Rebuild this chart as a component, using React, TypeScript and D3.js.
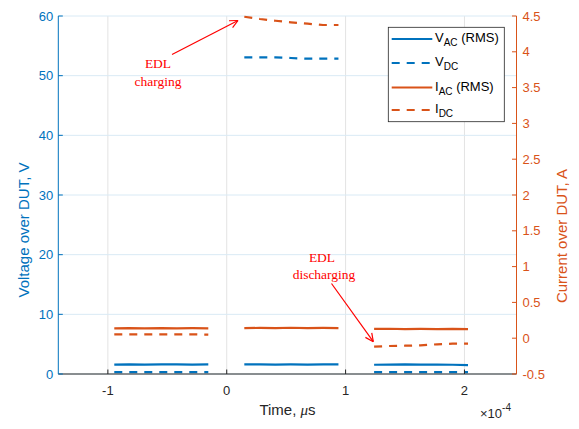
import React, { useEffect, useRef } from "react";
import * as d3 from "d3";

// Figure size and colours
const W = 579;
const H = 429;
const BLUE = "#0072BD";
const ORANGE = "#D95319";
const AXIS_DARK = "#262626";
const RED = "#FF0000";

// Time samples of the three measurement windows (x 1e-4)
const tWindow1 = [-0.946, -0.82, -0.69, -0.55, -0.42, -0.29, -0.155];
const tWindow2 = [0.148, 0.28, 0.41, 0.54, 0.68, 0.81, 0.94];
const tWindow3 = [1.24, 1.37, 1.5, 1.63, 1.77, 1.9, 2.03];

// Voltage over DUT (V)
const vAcWindow1 = [1.58, 1.6, 1.56, 1.62, 1.6, 1.58, 1.6];
const vAcWindow2 = [1.6, 1.62, 1.58, 1.6, 1.57, 1.6, 1.6];
const vAcWindow3 = [1.55, 1.58, 1.6, 1.56, 1.58, 1.55, 1.5];
const vDcWindow1 = [0.3, 0.3, 0.3, 0.3, 0.3, 0.3, 0.3];
const vDcWindow2 = [53.08, 53.08, 53.08, 52.96, 52.84, 52.84, 52.84];
const vDcWindow3 = [0.3, 0.3, 0.3, 0.3, 0.3, 0.3, 0.3];

// Current over DUT (A)
const iAcWindow1 = [0.138, 0.14, 0.136, 0.14, 0.138, 0.14, 0.138];
const iAcWindow2 = [0.14, 0.144, 0.14, 0.146, 0.142, 0.144, 0.142];
const iAcWindow3 = [0.13, 0.132, 0.128, 0.13, 0.128, 0.13, 0.126];
const iDcWindow1 = [0.054, 0.054, 0.054, 0.054, 0.054, 0.054, 0.05];
const iDcWindow2 = [4.49, 4.458, 4.434, 4.412, 4.393, 4.374, 4.374];
const iDcWindow3 = [-0.119, -0.109, -0.105, -0.1, -0.085, -0.077, -0.077];

// Axis ticks
const xTicks = [-1, 0, 1, 2];
const vTicks = [0, 10, 20, 30, 40, 50, 60];
const iTicks = [-0.5, 0, 0.5, 1, 1.5, 2, 2.5, 3, 3.5, 4, 4.5];

const windows = [
  { t: tWindow1, vac: vAcWindow1, vdc: vDcWindow1, iac: iAcWindow1, idc: iDcWindow1 },
  { t: tWindow2, vac: vAcWindow2, vdc: vDcWindow2, iac: iAcWindow2, idc: iDcWindow2 },
  { t: tWindow3, vac: vAcWindow3, vdc: vDcWindow3, iac: iAcWindow3, idc: iDcWindow3 },
];

const legendItems = [
  { main: "V", sub: "AC", tail: " (RMS)", color: BLUE, dash: null },
  { main: "V", sub: "DC", tail: "", color: BLUE, dash: "8,7" },
  { main: "I", sub: "AC", tail: " (RMS)", color: ORANGE, dash: null },
  { main: "I", sub: "DC", tail: "", color: ORANGE, dash: "8,7" },
];

const FONT = "Helvetica, Arial, 'Liberation Sans', sans-serif";
const SERIF = "'Liberation Serif', 'Times New Roman', serif";

export default function App() {
  const ref = useRef<SVGSVGElement | null>(null);

  useEffect(() => {
    const svg = d3.select(ref.current);
    svg.selectAll("*").remove();

    const left = 58.3, right = 516.5, top = 16, bottom = 374;
    const x = d3.scaleLinear().domain([-1.417, 2.438]).range([left, right]);
    const yV = d3.scaleLinear().domain([0, 60]).range([bottom, top]);
    const yI = d3.scaleLinear().domain([-0.5, 4.5]).range([bottom, top]);

    svg.append("rect").attr("width", W).attr("height", H).attr("fill", "white");

    // grid
    const grid = svg.append("g");
    grid.selectAll("line.gx").data(xTicks).join("line")
      .attr("x1", (d) => x(d)).attr("x2", (d) => x(d))
      .attr("y1", top).attr("y2", bottom)
      .attr("stroke", "#e3e3e3").attr("stroke-width", 1);
    grid.selectAll("line.gy").data(vTicks).join("line")
      .attr("x1", left).attr("x2", right)
      .attr("y1", (d) => yV(d)).attr("y2", (d) => yV(d))
      .attr("stroke", "#d9eaf5").attr("stroke-width", 1);

    // data
    const plot = svg.append("g");
    const drawSeries = (t: number[], v: number[], y: d3.ScaleLinear<number, number>, color: string, dash: string | null) => {
      const pts = t.map((d, i) => [d, v[i]] as [number, number]);
      const line = d3.line<[number, number]>().x((d) => x(d[0])).y((d) => y(d[1]));
      const p = plot.append("path").datum(pts)
        .attr("d", line)
        .attr("fill", "none")
        .attr("stroke", color)
        .attr("stroke-width", 2.2);
      if (dash) p.attr("stroke-dasharray", dash);
    };
    windows.forEach((w) => {
      drawSeries(w.t, w.vac, yV, BLUE, null);
      drawSeries(w.t, w.vdc, yV, BLUE, "8,7");
      drawSeries(w.t, w.iac, yI, ORANGE, null);
      drawSeries(w.t, w.idc, yI, ORANGE, "8,7");
    });

    // axes
    const ax = svg.append("g").attr("font-family", FONT);
    const tickLen = 4.5;
    // bottom
    ax.append("line").attr("x1", left).attr("x2", right).attr("y1", bottom).attr("y2", bottom)
      .attr("stroke", AXIS_DARK).attr("stroke-width", 1);
    xTicks.forEach((d) => {
      ax.append("line").attr("x1", x(d)).attr("x2", x(d)).attr("y1", bottom).attr("y2", bottom - tickLen)
        .attr("stroke", AXIS_DARK);
      ax.append("text").attr("x", x(d)).attr("y", bottom + 21).attr("text-anchor", "middle")
        .attr("font-size", 13).attr("fill", AXIS_DARK).text(String(d));
    });
    // left
    ax.append("line").attr("x1", left).attr("x2", left).attr("y1", top).attr("y2", bottom)
      .attr("stroke", BLUE).attr("stroke-width", 1);
    vTicks.forEach((d) => {
      ax.append("line").attr("x1", left).attr("x2", left + tickLen).attr("y1", yV(d)).attr("y2", yV(d))
        .attr("stroke", BLUE);
      ax.append("text").attr("x", left - 5).attr("y", yV(d) + 4.5).attr("text-anchor", "end")
        .attr("font-size", 13).attr("fill", BLUE).text(String(d));
    });
    // right
    ax.append("line").attr("x1", right).attr("x2", right).attr("y1", top).attr("y2", bottom)
      .attr("stroke", ORANGE).attr("stroke-width", 1);
    iTicks.forEach((d) => {
      ax.append("line").attr("x1", right).attr("x2", right - tickLen).attr("y1", yI(d)).attr("y2", yI(d))
        .attr("stroke", ORANGE);
      ax.append("text").attr("x", right + 6).attr("y", yI(d) + 4.5).attr("text-anchor", "start")
        .attr("font-size", 13).attr("fill", ORANGE).text(String(d));
    });

    // axis labels
    const xl = ax.append("text").attr("x", 287.5).attr("y", 415).attr("text-anchor", "middle")
      .attr("font-size", 15).attr("fill", AXIS_DARK);
    xl.append("tspan").text("Time, ");
    xl.append("tspan").attr("font-style", "italic").attr("font-family", SERIF).text("μ");
    xl.append("tspan").text("s");

    const ex = ax.append("text").attr("x", 480).attr("y", 418).attr("font-size", 13).attr("fill", AXIS_DARK);
    ex.append("tspan").text("×10");
    ex.append("tspan").attr("dy", -7).attr("font-size", 10).text("-4");

    ax.append("text").attr("transform", `translate(29,230) rotate(-90)`).attr("text-anchor", "middle")
      .attr("font-size", 15).attr("fill", BLUE).text("Voltage over DUT, V");
    ax.append("text").attr("transform", `translate(567,236) rotate(-90)`).attr("text-anchor", "middle")
      .attr("font-size", 15).attr("fill", ORANGE).text("Current over DUT, A");

    // legend
    const lg = svg.append("g").attr("font-family", FONT);
    lg.append("rect").attr("x", 388.3).attr("y", 27.3).attr("width", 116).attr("height", 94.4)
      .attr("fill", "white").attr("stroke", AXIS_DARK).attr("stroke-width", 0.8);
    const rowY = [39, 63, 87.5, 110];
    legendItems.forEach((it, i) => {
      const ly = rowY[i];
      const l = lg.append("line").attr("x1", 391.7).attr("x2", 432.3).attr("y1", ly).attr("y2", ly)
        .attr("stroke", it.color).attr("stroke-width", 2.2);
      if (it.dash) l.attr("stroke-dasharray", it.dash);
      const tx = lg.append("text").attr("x", 435).attr("y", ly + 3).attr("font-size", 13).attr("fill", "#000");
      tx.append("tspan").text(it.main);
      tx.append("tspan").attr("dy", 4).attr("font-size", 10).text(it.sub);
      if (it.tail) tx.append("tspan").attr("dy", -4).text(it.tail);
    });

    // annotations
    const an = svg.append("g").attr("font-family", SERIF).attr("fill", RED).attr("font-size", 13.5);
    an.append("text").attr("x", 158).attr("y", 68).attr("text-anchor", "middle").text("EDL");
    an.append("text").attr("x", 158).attr("y", 86).attr("text-anchor", "middle").text("charging");
    an.append("text").attr("x", 322).attr("y", 262).attr("text-anchor", "middle").text("EDL");
    an.append("text").attr("x", 324).attr("y", 279).attr("text-anchor", "middle").text("discharging");

    const arrow = (x1: number, y1: number, x2: number, y2: number) => {
      an.append("line").attr("x1", x1).attr("y1", y1).attr("x2", x2).attr("y2", y2)
        .attr("stroke", RED).attr("stroke-width", 1.2);
      const ang = Math.atan2(y2 - y1, x2 - x1);
      const hl = 9, hw = 0.45;
      [ang + Math.PI - hw, ang + Math.PI + hw].forEach((a) => {
        an.append("line").attr("x1", x2).attr("y1", y2)
          .attr("x2", x2 + hl * Math.cos(a)).attr("y2", y2 + hl * Math.sin(a))
          .attr("stroke", RED).attr("stroke-width", 1.2);
      });
    };
    arrow(172, 54.5, 238, 20.5);
    arrow(331.5, 283.5, 373.3, 341.7);
  }, []);

  return (
    <svg ref={ref} width={W} height={H}
      style={{ position: "absolute", left: 0, top: 0, display: "block" }} />
  );
}
